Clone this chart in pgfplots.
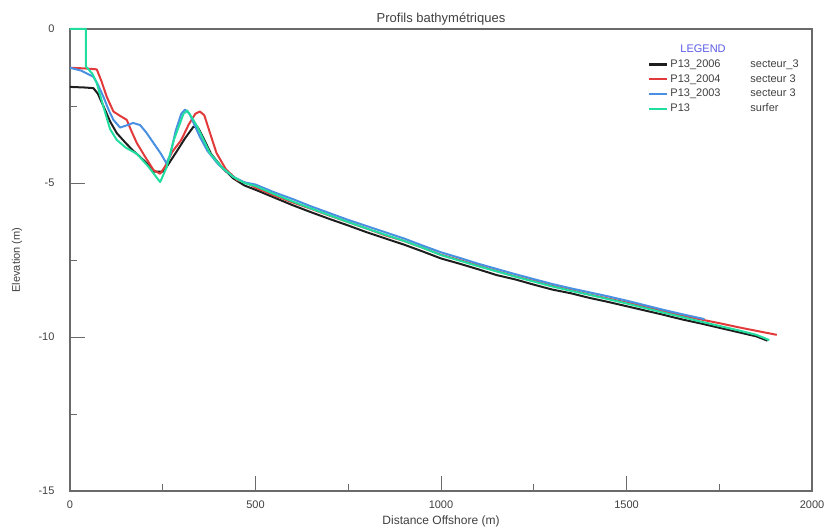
\documentclass[border=0pt]{standalone}
\usepackage{pgfplots}
\pgfplotsset{compat=1.18}
\usepackage{fontspec}
\setmainfont{Liberation Sans}
\definecolor{c06}{HTML}{1E1E1E}
\definecolor{c04}{HTML}{E23A3A}
\definecolor{c03}{HTML}{4A90E2}
\definecolor{csurf}{HTML}{22DDA0}
\definecolor{txt}{HTML}{404040}
\definecolor{frm}{HTML}{6A6A6A}
\definecolor{legblue}{HTML}{5A5AE6}
\begin{document}
\begin{tikzpicture}[x=1pt,y=1pt]
\path[use as bounding box] (0,0) rectangle (830,532);
\begin{axis}[
  at={(70pt,41pt)}, anchor=south west,
  width=742pt, height=462pt, scale only axis,
  xmin=0, xmax=2000, ymin=-15, ymax=0,
  clip=false,
  axis line style={draw=frm, line width=1.1pt},
  tick pos=left, tick align=inside,
  major tick length=15pt, minor tick length=7pt,
  tick style={draw=frm, line width=0.9pt},
  xtick={0,500,1000,1500,2000},
  xticklabels={0,500,1000,1500,2000},
  minor xtick={250,750,1250,1750},
  ytick={0,-5,-10,-15},
  yticklabels={0,-5,-10,-15},
  minor ytick={-2.5,-7.5,-12.5},
  tick label style={font=\fontsize{11}{13}\selectfont, text=txt},
  xticklabel style={anchor=base, yshift=-18pt},
  yticklabel style={anchor=east, xshift=-12pt},
  title={Profils bathymétriques},
  title style={font=\fontsize{13}{15}\selectfont, text=txt, at={(axis description cs:0.5,1)}, anchor=base, yshift=0pt},
  xlabel={Distance Offshore (m)},
  xlabel style={font=\fontsize{12}{14}\selectfont, text=txt, at={(axis description cs:0.5,0)}, anchor=base, yshift=-34pt},
  ylabel={Elevation (m)},
  ylabel style={font=\fontsize{11}{13}\selectfont, text=txt, at={(axis description cs:-0.0714,0.5)}, anchor=center},
  legend style={at={(axis description cs:0.775,0.974)}, anchor=north west, draw=none, fill=none,
    font=\fontsize{11}{13}\selectfont, text=txt, row sep=1.5pt, cells={anchor=west}},
  legend image code/.code={\draw[#1, line width=2.2pt] (0pt,0pt) -- (18pt,0pt);},
  every axis plot/.append style={line width=2pt, line join=round},
]
\addlegendimage{empty legend}
\addlegendentry{\hspace{10pt}\textcolor{legblue}{LEGEND}}

% P13_2006 secteur_3
\addplot[color=c06] coordinates {
(0,-1.88) (40,-1.9) (63,-1.92) (75,-2.1) (90,-2.5) (108,-3.0) (126,-3.38) (150,-3.7) (170,-3.95)
(189,-4.15) (210,-4.4) (225,-4.63) (252,-4.63) (270,-4.3) (290,-3.93) (310,-3.55) (333,-3.17)
(345,-3.2) (360,-3.55) (380,-4.05) (410,-4.5) (440,-4.85) (470,-5.08)
(500,-5.22) (550,-5.47) (600,-5.72) (650,-5.95) (700,-6.17) (750,-6.38) (800,-6.6) (850,-6.8)
(900,-7.0) (950,-7.22) (1000,-7.45) (1050,-7.62) (1100,-7.8) (1150,-7.99) (1200,-8.13) (1250,-8.3)
(1300,-8.46) (1350,-8.58) (1400,-8.73) (1450,-8.86) (1500,-9.0) (1550,-9.14) (1600,-9.28)
(1650,-9.43) (1700,-9.56) (1750,-9.7) (1800,-9.84) (1850,-9.98) (1880,-10.12)
};
\addlegendentry{\makebox[80pt][l]{P13\_2006}secteur\_3}

% P13_2004 secteur 3
\addplot[color=c04] coordinates {
(0,-1.26) (40,-1.28) (72,-1.31) (85,-1.7) (99,-2.2) (117,-2.68) (135,-2.82) (153,-2.95) (165,-3.3)
(180,-3.7) (200,-4.1) (225,-4.58) (243,-4.7) (256,-4.47) (275,-4.0) (300,-3.6) (320,-3.1)
(338,-2.75) (350,-2.68) (362,-2.8) (378,-3.4) (395,-4.03) (420,-4.55) (450,-4.9) (480,-5.02)
(500,-5.15) (550,-5.4) (600,-5.63) (650,-5.84) (700,-6.06) (750,-6.27) (800,-6.48) (850,-6.7)
(900,-6.88) (950,-7.1) (1000,-7.33) (1050,-7.5) (1100,-7.68) (1150,-7.86) (1200,-8.03) (1250,-8.18)
(1300,-8.34) (1350,-8.48) (1400,-8.62) (1450,-8.75) (1500,-8.88) (1550,-9.02) (1600,-9.16)
(1650,-9.3) (1700,-9.43) (1750,-9.55) (1800,-9.68) (1850,-9.8) (1905,-9.93)
};
\addlegendentry{\makebox[80pt][l]{P13\_2004}secteur 3}

% P13_2003 secteur 3
\addplot[color=c03] coordinates {
(0,-1.26) (30,-1.35) (63,-1.55) (75,-1.8) (90,-2.2) (105,-2.65) (117,-2.95) (135,-3.2) (155,-3.12)
(170,-3.05) (189,-3.12) (205,-3.35) (225,-3.7) (245,-4.05) (260,-4.36) (270,-4.1) (285,-3.3)
(300,-2.75) (310,-2.62) (322,-2.75) (335,-3.1) (350,-3.5) (370,-3.95) (400,-4.4) (440,-4.8) (470,-4.98)
(500,-5.05) (550,-5.3) (600,-5.52) (650,-5.76) (700,-5.98) (750,-6.2) (800,-6.4) (850,-6.6)
(900,-6.8) (950,-7.03) (1000,-7.25) (1050,-7.43) (1100,-7.62) (1150,-7.79) (1200,-7.96) (1250,-8.12)
(1300,-8.28) (1350,-8.42) (1400,-8.55) (1450,-8.68) (1500,-8.82) (1550,-8.97) (1600,-9.12)
(1650,-9.26) (1710,-9.42)
};
\addlegendentry{\makebox[80pt][l]{P13\_2003}secteur 3}

% P13 surfer
\addplot[color=csurf] coordinates {
(0,0) (43,0) (43,-1.22) (60,-1.45) (72,-1.75) (90,-2.52) (108,-3.25) (126,-3.6) (150,-3.85)
(180,-4.05) (210,-4.45) (243,-4.97) (260,-4.5) (280,-3.6) (306,-2.75) (316,-2.65) (330,-2.9)
(343,-3.17) (360,-3.6) (377,-4.03) (410,-4.5) (440,-4.8) (470,-5.0)
(500,-5.1) (550,-5.36) (600,-5.6) (650,-5.83) (700,-6.05) (750,-6.27) (800,-6.48) (850,-6.68)
(900,-6.88) (950,-7.1) (1000,-7.34) (1050,-7.52) (1100,-7.7) (1150,-7.87) (1200,-8.04) (1250,-8.2)
(1300,-8.36) (1350,-8.5) (1400,-8.63) (1450,-8.77) (1500,-8.91) (1550,-9.06) (1600,-9.21)
(1650,-9.35) (1700,-9.5) (1750,-9.64) (1800,-9.78) (1850,-9.93) (1885,-10.1)
};
\addlegendentry{\makebox[80pt][l]{P13}surfer}
\end{axis}
\end{tikzpicture}
\end{document}
